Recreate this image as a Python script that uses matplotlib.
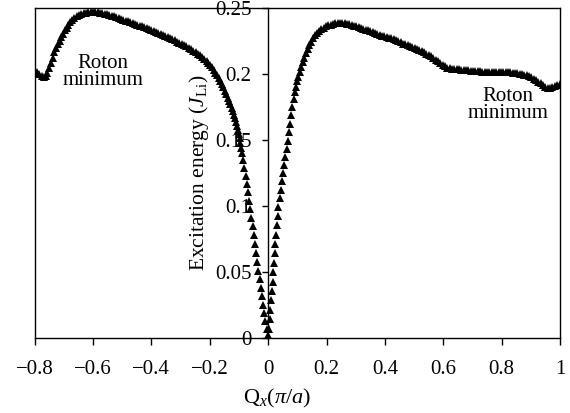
import matplotlib
matplotlib.use("Agg")
import matplotlib.pyplot as plt

plt.rcParams['font.family'] = ['Liberation Serif', 'DejaVu Serif']
plt.rcParams['mathtext.fontset'] = 'custom'
plt.rcParams['mathtext.rm'] = 'Liberation Serif'
plt.rcParams['mathtext.it'] = 'Liberation Serif:italic'

# left branch, Qx < 0
qx_left = [-0.800, -0.792, -0.784, -0.776, -0.768, -0.762,
           -0.756, -0.750, -0.744, -0.738, -0.732, -0.726, -0.720, -0.714, -0.708, -0.702,
           -0.696, -0.690, -0.684, -0.678, -0.671, -0.664, -0.656, -0.648, -0.640, -0.632,
           -0.624, -0.616, -0.608, -0.600, -0.592, -0.584, -0.576, -0.568, -0.560, -0.552,
           -0.544, -0.536, -0.528, -0.520, -0.512, -0.504, -0.496, -0.488, -0.480, -0.472,
           -0.464, -0.456, -0.448, -0.440, -0.432, -0.424, -0.416, -0.408, -0.400, -0.392,
           -0.384, -0.376, -0.368, -0.360, -0.352, -0.344, -0.336, -0.328, -0.320, -0.312,
           -0.304, -0.296, -0.288, -0.280, -0.272, -0.264, -0.256, -0.248, -0.240, -0.232,
           -0.225, -0.218, -0.211, -0.205, -0.199, -0.193, -0.187, -0.181, -0.175, -0.169,
           -0.164, -0.159, -0.154, -0.149, -0.144, -0.139, -0.134, -0.129, -0.125, -0.121,
           -0.117, -0.113, -0.110, -0.107, -0.104, -0.101, -0.098, -0.095, -0.092, -0.089,
           -0.085, -0.081, -0.077, -0.073, -0.069, -0.065, -0.061, -0.057, -0.053, -0.049,
           -0.045, -0.041, -0.037, -0.033, -0.029, -0.025, -0.021, -0.017, -0.013, -0.009,
           -0.005, -0.002]
e_left = [0.2020, 0.2012, 0.2000, 0.1988, 0.1980, 0.1985,
          0.2010, 0.2045, 0.2085, 0.2125, 0.2165, 0.2200, 0.2228, 0.2252, 0.2278, 0.2305,
          0.2330, 0.2352, 0.2375, 0.2395, 0.2412, 0.2427, 0.2440, 0.2450, 0.2457, 0.2462,
          0.2466, 0.2469, 0.2471, 0.2472, 0.2472, 0.2470, 0.2466, 0.2461, 0.2456, 0.2451,
          0.2447, 0.2442, 0.2436, 0.2430, 0.2424, 0.2418, 0.2412, 0.2405, 0.2399, 0.2393,
          0.2387, 0.2381, 0.2374, 0.2367, 0.2360, 0.2353, 0.2346, 0.2339, 0.2332, 0.2324,
          0.2317, 0.2309, 0.2302, 0.2294, 0.2287, 0.2279, 0.2271, 0.2263, 0.2255, 0.2246,
          0.2237, 0.2228, 0.2219, 0.2209, 0.2199, 0.2188, 0.2177, 0.2165, 0.2153, 0.2141,
          0.2128, 0.2114, 0.2100, 0.2085, 0.2068, 0.2050, 0.2030, 0.2010, 0.1990, 0.1968,
          0.1945, 0.1922, 0.1898, 0.1872, 0.1846, 0.1820, 0.1795, 0.1770, 0.1744, 0.1718,
          0.1692, 0.1666, 0.1638, 0.1608, 0.1578, 0.1548, 0.1512, 0.1476, 0.1440, 0.1404,
          0.1350, 0.1290, 0.1230, 0.1168, 0.1105, 0.1040, 0.0975, 0.0910, 0.0845, 0.0780,
          0.0712, 0.0645, 0.0578, 0.0510, 0.0445, 0.0380, 0.0315, 0.0252, 0.0190, 0.0128,
          0.0068, 0.0020]

# right branch, Qx > 0
qx_right = [0.000, 0.0025, 0.0050, 0.0075, 0.0100, 0.0125, 0.0150, 0.0175, 0.0200, 0.0225,
            0.0250, 0.0275, 0.0300, 0.0325, 0.0350, 0.039, 0.043, 0.047, 0.051, 0.055,
            0.059, 0.063, 0.067, 0.071, 0.075, 0.079, 0.083, 0.087, 0.091, 0.095,
            0.099, 0.103, 0.108, 0.113, 0.118, 0.123, 0.129, 0.135, 0.141, 0.147,
            0.154, 0.161, 0.168, 0.175, 0.182, 0.190, 0.198, 0.206, 0.214, 0.222,
            0.230, 0.238, 0.246, 0.254, 0.262, 0.270, 0.278, 0.286, 0.294, 0.302,
            0.310, 0.318, 0.326, 0.334, 0.342, 0.350, 0.358, 0.366, 0.374, 0.382,
            0.390, 0.398, 0.406, 0.414, 0.422, 0.430, 0.438, 0.446, 0.454, 0.462,
            0.470, 0.478, 0.486, 0.494, 0.502, 0.510, 0.518, 0.526, 0.534, 0.542,
            0.550, 0.558, 0.566, 0.574, 0.582, 0.590, 0.598, 0.606, 0.614, 0.622,
            0.630, 0.638, 0.646, 0.654, 0.662, 0.670, 0.678, 0.686, 0.694, 0.702,
            0.710, 0.718, 0.726, 0.734, 0.742, 0.750, 0.758, 0.766, 0.774, 0.782,
            0.790, 0.798, 0.806, 0.814, 0.822, 0.830, 0.838, 0.846, 0.854, 0.862,
            0.870, 0.878, 0.886, 0.894, 0.902, 0.910, 0.918, 0.926, 0.934, 0.942,
            0.950, 0.958, 0.966, 0.974, 0.982, 0.990, 1.000]
e_right = [0.0000, 0.0071, 0.0143, 0.0214, 0.0285, 0.0356, 0.0428, 0.0500, 0.0571, 0.0642,
           0.0713, 0.0784, 0.0855, 0.0926, 0.0995, 0.1060, 0.1124, 0.1187, 0.1250, 0.1312,
           0.1373, 0.1433, 0.1496, 0.1560, 0.1624, 0.1688, 0.1750, 0.1808, 0.1860, 0.1905,
           0.1945, 0.1980, 0.2018, 0.2055, 0.2090, 0.2122, 0.2157, 0.2188, 0.2218, 0.2244,
           0.2270, 0.2292, 0.2310, 0.2325, 0.2338, 0.2350, 0.2360, 0.2368, 0.2375, 0.2380,
           0.2383, 0.2385, 0.2386, 0.2386, 0.2385, 0.2382, 0.2378, 0.2373, 0.2367, 0.2361,
           0.2355, 0.2349, 0.2343, 0.2337, 0.2331, 0.2324, 0.2317, 0.2310, 0.2303, 0.2297,
           0.2291, 0.2286, 0.2281, 0.2276, 0.2270, 0.2263, 0.2256, 0.2248, 0.2240, 0.2231,
           0.2224, 0.2217, 0.2210, 0.2203, 0.2196, 0.2189, 0.2182, 0.2174, 0.2165, 0.2155,
           0.2144, 0.2133, 0.2121, 0.2109, 0.2096, 0.2082, 0.2068, 0.2057, 0.2049, 0.2044,
           0.2040, 0.2038, 0.2036, 0.2035, 0.2034, 0.2032, 0.2030, 0.2028, 0.2026, 0.2024,
           0.2022, 0.2021, 0.2020, 0.2019, 0.2018, 0.2018, 0.2018, 0.2018, 0.2018, 0.2017,
           0.2017, 0.2016, 0.2015, 0.2014, 0.2013, 0.2012, 0.2010, 0.2008, 0.2006, 0.2003,
           0.2000, 0.1996, 0.1990, 0.1983, 0.1975, 0.1965, 0.1954, 0.1942, 0.1930, 0.1918,
           0.1905, 0.1895, 0.1893, 0.1900, 0.1910, 0.1918, 0.1925]

xticks = [-0.8, -0.6, -0.4, -0.2, 0, 0.2, 0.4, 0.6, 0.8, 1]
xticklabels = ['\u22120.8', '\u22120.6', '\u22120.4', '\u22120.2', '0', '0.2', '0.4', '0.6', '0.8', '1']
yticks = [0, 0.05, 0.1, 0.15, 0.2, 0.25]
yticklabels = ['0', '0.05', '0.1', '0.15', '0.2', '0.25']

fig = plt.figure(figsize=(5.70, 4.13), dpi=100)
ax = fig.add_axes([0.0607, 0.1816, 0.9218, 0.799])

ax.plot(qx_left, e_left, '^', color='black', markersize=6, markeredgewidth=0)
ax.plot(qx_right, e_right, '^', color='black', markersize=6, markeredgewidth=0)

ax.set_xlim(-0.8, 1)
ax.set_ylim(0, 0.25)

# y axis sits at Qx = 0, frame drawn all round
ax.spines['left'].set_position(('data', 0))
for s in ax.spines.values():
    s.set_linewidth(1.0)
ax.plot([0, 0], [0, 1], transform=ax.transAxes, color='black', lw=1.0, clip_on=False)

ax.set_xticks(xticks)
ax.set_xticklabels(xticklabels)
ax.set_yticks(yticks)
ax.set_yticklabels(yticklabels)
ax.tick_params(axis='x', direction='out', length=5, width=1.0, pad=11, labelsize=15)
ax.tick_params(axis='y', direction='out', length=4, width=1.0, pad=8, labelsize=15)

ax.set_xlabel(r'$\mathrm{Q}_x(\pi/a)$', fontsize=16)
ax.xaxis.set_label_coords(0.461, -0.148)
ax.set_ylabel(r'Excitation energy ($J_{\mathrm{Li}}$)', fontsize=15.5)
ax.yaxis.set_label_coords(0.335, 0.5)

ax.text(-0.565, 0.2015, 'Roton\nminimum', ha='center', va='center', fontsize=15, linespacing=0.9)
ax.text(0.822, 0.1765, 'Roton\nminimum', ha='center', va='center', fontsize=15, linespacing=0.9)

fig.savefig('out.png', dpi=100)
